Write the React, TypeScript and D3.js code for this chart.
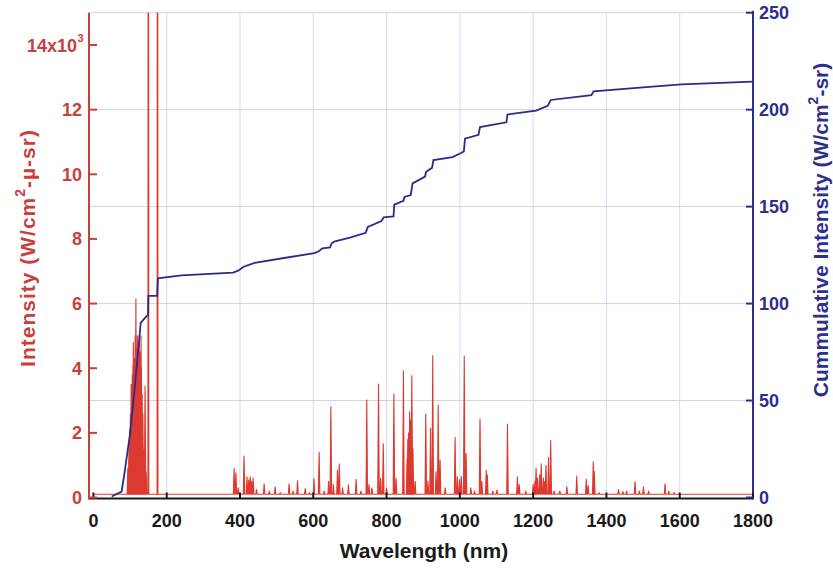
import React from "react";
import * as d3 from "d3";

// Spectral lines: wavelength (nm) and peak intensity (W/cm2-um-sr)
const peakWl = [94,97,99,101,103,105,106,108,109,111,112,114,115,116,117,118,120,121,122,124,125,127,128,130,131,133,135,137,139,141,144,150,175,
384,389,395,411,419,424,428,432,436,445,466,480,496,510,534,545,557,578,590,602,616,630,642,648,655,666,671,680,696,717,730,746,752,760,778,784,791,800,820,826,846,856,858,860,863,866,869,872,878,907,913,920,926,935,941,946,960,987,993,999,1004,1012,1017,1030,1040,1055,1060,1072,1075,1090,1101,1130,1157,1162,1180,1200,1205,1208,1212,1218,1222,1228,1232,1235,1242,1248,1257,1273,1292,1319,1345,1350,1364,1367,1380,1433,1445,1455,1478,1490,1501,1515,1560,1570,1585];
const peakI = [900,1500,2100,2600,3500,2900,3800,4100,4800,4300,3900,5000,4200,6150,4600,3800,5000,4400,4800,4100,5000,3900,4500,5000,4000,3200,2600,1500,1200,3450,800,40000,40000,
900,770,300,1280,640,550,640,500,600,250,420,200,330,150,420,200,520,280,150,590,1400,200,500,2810,400,850,1040,300,390,560,200,3020,400,300,3510,600,1660,300,3200,600,3920,1200,1800,2000,2650,2400,3770,1500,500,2580,500,2140,4390,800,2860,1160,300,1860,650,550,650,4380,1370,300,200,2430,500,850,700,200,230,2270,640,400,200,400,500,900,600,700,1040,600,500,1000,1240,1760,200,200,330,660,560,370,1110,800,150,250,180,200,490,200,330,200,420,200,150];
const baseline = 100;

// Cumulative intensity (W/cm2-sr)
const cumWl = [50,77,86,100,113,125,129,145,149,150,174,176,240,381,395,410,440,520,603,615,625,646,650,657,700,743,746,749,786,789,792,819,821,846,849,866,871,905,908,924,928,980,1002,1011,1014,1051,1055,1127,1130,1208,1240,1248,1359,1365,1500,1605,1800];
const cumV = [0.5,3,14,33,57,81,90,93.5,94,104,104,113,114.5,116,117,119,121,123.5,126,127,128.5,129,131,132,134,136.5,138,139.5,142.5,143.5,144.5,145,151,153,155,156,162,165.5,168,170,174,175.5,177.5,178.5,185,187,191,193.5,197.5,199.5,202,205,207.5,209.5,211.5,213,214.5];

const xTicks = [0,200,400,600,800,1000,1200,1400,1600,1800];
const yLeftTicks = [0,2000,4000,6000,8000,10000,12000,14000];
const yRightTicks = [0,50,100,150,200,250];

const W = 833, H = 569;
const L = 89, R = 753, T = 12.7, B = 497.5;

export default function App() {
  const x = d3.scaleLinear().domain([-12, 1800]).range([L, R]);
  const yL = d3.scaleLinear().domain([0, 15000]).range([B, T]);
  const yR = d3.scaleLinear().domain([0, 250]).range([B, T]);

  const hw = 2.0;
  const pts: [number, number][] = [[0, baseline]];
  peakWl.forEach((w, i) => {
    const h = peakI[i] > 20000 ? 1.2 : hw;
    pts.push([w - h, baseline], [w, peakI[i]], [w + h, baseline]);
  });
  pts.push([1800, baseline]);
  const specLine = d3.line<[number, number]>().x(d => x(d[0])).y(d => yL(d[1]));
  const cumLine = d3.line<number>().x((d, i) => x(cumWl[i])).y(d => yR(d));

  const font = "'Liberation Sans', Arial, Helvetica, sans-serif";
  const red = "#c8403c";
  const navy = "#2c2f8e";

  return (
    <svg width={W} height={H} style={{ position: "absolute", left: 0, top: 0, background: "#fff" }} fontFamily={font}>
      <defs>
        <clipPath id="plot"><rect x={L} y={T} width={R - L} height={B - T + 1} /></clipPath>
      </defs>
      {/* grid */}
      {xTicks.filter(v => v > 0 && v < 1800).map(v => (
        <line key={"gx" + v} x1={x(v)} x2={x(v)} y1={T} y2={B} stroke="#d8d8ee" strokeWidth={1} />
      ))}
      {yRightTicks.filter(v => v > 0).map(v => (
        <line key={"gy" + v} x1={L} x2={R} y1={yR(v)} y2={yR(v)} stroke="#d4d4d4" strokeWidth={1} />
      ))}
      <g clipPath="url(#plot)">
        <path d={specLine(pts) || ""} fill="#ff2a1c" stroke="#dc3a30" strokeWidth={1.1} strokeLinejoin="round" />
        <path d={cumLine(cumV) || ""} fill="none" stroke="#2a2c8c" strokeWidth={1.8} />
      </g>
      {/* axes */}
      <line x1={L} x2={R} y1={B + 1} y2={B + 1} stroke="#1a1a1a" strokeWidth={2} />
      <line x1={L} x2={L} y1={T} y2={B + 2} stroke={red} strokeWidth={2} />
      <line x1={R} x2={R} y1={T - 2} y2={B + 2} stroke={navy} strokeWidth={2} />
      {xTicks.map(v => (
        <g key={"xt" + v}>
          <line x1={x(v)} x2={x(v)} y1={B + 1} y2={B - 5} stroke="#1a1a1a" strokeWidth={2} />
          <text x={x(v)} y={527} textAnchor="middle" fontSize={18} fontWeight="bold" fill="#1a1a1a">{v}</text>
        </g>
      ))}
      {yLeftTicks.map(v => (
        <g key={"yl" + v}>
          <line x1={L} x2={L + 8} y1={yL(v)} y2={yL(v)} stroke={red} strokeWidth={2} />
          <text x={v === 14000 ? 77 : 82} y={yL(v) + 6.5} textAnchor="end" fontSize={18} fontWeight="bold" fill={red}>
            {v === 14000 ? "14x10" : String(v / 1000)}
          </text>
          {v === 14000 && (
            <text x={77.5} y={yL(v) - 3} textAnchor="start" fontSize={11} fontWeight="bold" fill={red}>3</text>
          )}
        </g>
      ))}
      {yRightTicks.map(v => (
        <g key={"yr" + v}>
          <line x1={R - 7} x2={R} y1={yR(v)} y2={yR(v)} stroke={navy} strokeWidth={2} />
          <text x={759} y={yR(v) + 6.5} textAnchor="start" fontSize={18} fontWeight="bold" fill={navy}>{v}</text>
        </g>
      ))}
      {/* titles */}
      <text x={424} y={558} textAnchor="middle" fontSize={21} fontWeight="bold" fill="#1a1a1a">Wavelength (nm)</text>
      <text transform="translate(35,248) rotate(-90)" textAnchor="middle" fontSize={21} fontWeight="bold" letterSpacing={1} fill={red}>
        Intensity (W/cm<tspan dy={-10} fontSize={14}>2</tspan><tspan dy={10}>-µ-sr)</tspan>
      </text>
      <text transform="translate(828,230) rotate(-90)" textAnchor="middle" fontSize={21} fontWeight="bold" fill={navy}>
        Cummulative Intensity (W/cm<tspan dy={-10} fontSize={14}>2</tspan><tspan dy={10}>-sr)</tspan>
      </text>
    </svg>
  );
}
